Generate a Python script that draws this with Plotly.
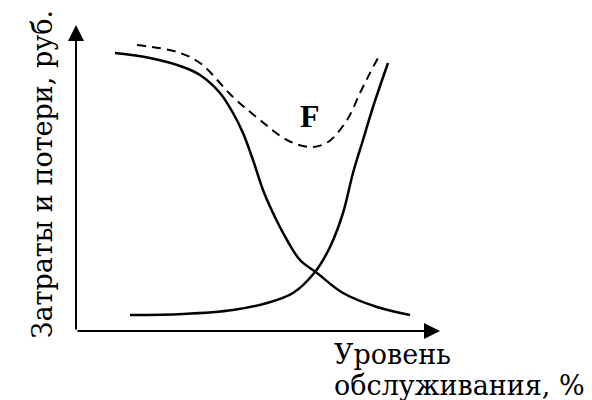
import plotly.graph_objects as go

# Schematic curves, coordinates measured from the axis origin
loss_x = [39, 74, 107, 124, 144, 157, 167, 177, 187, 197, 211, 224, 241, 267, 301, 334]
loss_y = [278, 273, 264, 256, 238, 218, 198, 171, 141, 118, 91, 71, 58, 38, 24, 16]

cost_x = [54, 107, 157, 191, 217, 239, 254, 267, 277, 287, 297, 312]
cost_y = [16, 17, 21, 28, 38, 59, 84, 118, 158, 191, 224, 268]

total_x = [61, 101, 124, 157, 184, 211, 234, 252, 271, 284, 294, 302]
total_y = [286, 279, 268, 234, 211, 191, 184, 189, 211, 238, 258, 273]

label_f = (234, 215)

y_title = "Затраты и потери, руб."
x_title_lines = ["Уровень", "обслуживания, %"]

fig = go.Figure()
fig.add_trace(go.Scatter(x=loss_x, y=loss_y, mode="lines", line_shape="spline",
                         line=dict(color="black", width=2.5)))
fig.add_trace(go.Scatter(x=cost_x, y=cost_y, mode="lines", line_shape="spline",
                         line=dict(color="black", width=2.5)))
fig.add_trace(go.Scatter(x=total_x, y=total_y, mode="lines", line_shape="spline",
                         line=dict(color="black", width=2, dash="9px,6px")))

# axes drawn as arrows
fig.add_annotation(x=0, y=1, xref="paper", yref="paper", ax=0, ay=306,
                   showarrow=True, arrowhead=2, arrowsize=1.6, arrowwidth=2,
                   arrowcolor="black", text="")
fig.add_annotation(x=1, y=0, xref="paper", yref="paper", ax=-364, ay=0,
                   showarrow=True, arrowhead=2, arrowsize=1.6, arrowwidth=2,
                   arrowcolor="black", text="")

fig.add_annotation(x=label_f[0], y=label_f[1], text="<b>F</b>", showarrow=False,
                   font=dict(family="Liberation Serif", size=32, color="black"))

fig.add_annotation(x=0, y=0.51, xref="paper", yref="paper", xshift=-51,
                   text=y_title, textangle=-90, showarrow=False,
                   font=dict(family="DejaVu Serif", size=27, color="black"))
for i, line in enumerate(x_title_lines):
    fig.add_annotation(x=0.703, y=-0.02, xref="paper", yref="paper",
                       yshift=-31 * i, xanchor="left", yanchor="top",
                       text=line, showarrow=False,
                       font=dict(family="DejaVu Serif", size=27, color="black"))

fig.update_xaxes(range=[0, 364], visible=False)
fig.update_yaxes(range=[0, 306], visible=False)
fig.update_layout(width=584, height=392, showlegend=False,
                  margin=dict(l=68, r=152, t=17, b=69),
                  paper_bgcolor="white", plot_bgcolor="white")

fig.write_html("out.html")
